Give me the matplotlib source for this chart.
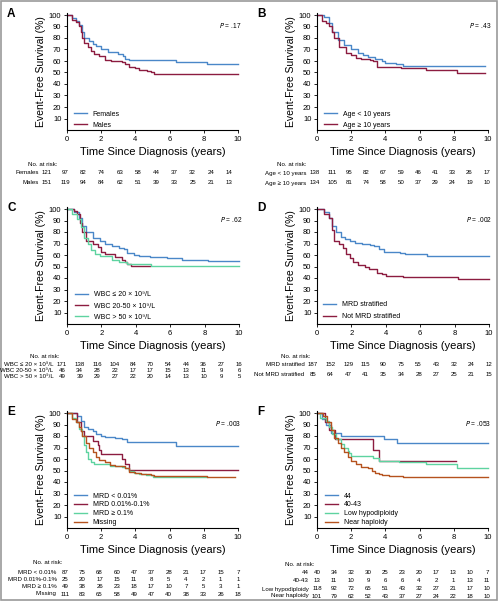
import matplotlib
matplotlib.use('Agg')
import matplotlib.pyplot as plt
from matplotlib.patches import Rectangle

plt.rcParams['font.family'] = ['Liberation Sans Narrow', 'Liberation Sans', 'DejaVu Sans']

W, H = 499, 609
BLUE = '#4a87c8'
RED = '#8c1c40'
GREEN = '#5ed3a0'
ORANGE = '#b5521e'

# ---- panel A: sex
a_fem_t = [0, 0.3, 0.5, 0.7, 0.85, 1.0, 1.3, 1.5, 1.7, 2.0, 2.4, 3.0, 3.3, 3.4, 3.6, 6.4, 8.2, 10.0]
a_fem_s = [100, 97, 95, 91, 85, 80, 77, 75, 73, 70, 68, 66.5, 64, 62, 61, 59.5, 57.5, 57.5]
a_mal_t = [0, 0.3, 0.5, 0.7, 0.8, 0.9, 1.0, 1.2, 1.4, 1.6, 1.9, 2.2, 2.6, 3.2, 3.4, 3.6, 4.0, 4.2, 4.7, 4.9, 5.1, 10.0]
a_mal_s = [100, 96, 94, 90, 85, 80, 76, 72, 69, 66, 64, 61, 60, 59, 57, 55, 54, 52, 51.5, 50, 49, 49]
a_risk_fem = [121, 97, 82, 74, 63, 58, 44, 37, 32, 24, 14]
a_risk_mal = [151, 119, 94, 84, 62, 51, 39, 33, 25, 21, 13]

# ---- panel B: age
b_young_t = [0, 0.4, 0.7, 0.9, 1.2, 1.6, 2.0, 2.4, 2.7, 3.0, 3.4, 3.8, 4.0, 4.6, 5.0, 9.8]
b_young_s = [100, 98, 93, 85, 78, 74, 70, 67, 65, 63.5, 62, 60, 58, 57, 56, 56]
b_old_t = [0, 0.3, 0.5, 0.7, 0.85, 1.0, 1.3, 1.7, 2.0, 2.3, 2.6, 3.1, 3.3, 3.5, 4.9, 6.4, 8.2, 9.8]
b_old_s = [100, 95, 93, 90, 85, 80, 72, 67, 65, 63, 62, 61, 60, 54.5, 53.5, 52, 49.5, 49.5]
b_risk_young = [138, 111, 95, 82, 67, 59, 46, 41, 33, 26, 17]
b_risk_old = [134, 105, 81, 74, 58, 50, 37, 29, 24, 19, 10]

# ---- panel C: WBC
c_low_t = [0, 0.4, 0.7, 0.9, 1.1, 1.5, 1.9, 2.2, 2.6, 3.0, 3.3, 3.5, 3.9, 4.2, 4.8, 5.8, 6.7, 8.2, 10.0]
c_low_s = [100, 97, 92, 85, 80, 75, 72, 70, 67.5, 66, 65, 61.5, 60, 59, 58, 57, 56, 55, 55]
c_mid_t = [0, 0.4, 0.6, 0.75, 0.85, 1.1, 1.5, 1.8, 2.0, 2.2, 2.8, 3.2, 3.4, 3.5, 3.7, 4.8]
c_mid_s = [100, 98, 96, 88, 80, 72, 70, 67, 63, 61, 58, 56, 54, 52, 50.5, 50.5]
c_high_t = [0, 0.3, 0.6, 0.8, 1.0, 1.2, 1.4, 1.6, 1.9, 2.6, 3.0, 3.5, 4.9, 10.0]
c_high_s = [100, 96, 91, 84, 75, 70, 64, 61, 59, 56, 54, 52.5, 50.5, 50.5]
c_risk_low = [171, 138, 116, 104, 84, 70, 54, 44, 36, 27, 16]
c_risk_mid = [46, 34, 28, 22, 17, 17, 15, 13, 11, 9, 6]
c_risk_high = [49, 39, 29, 27, 22, 20, 14, 13, 10, 9, 5]

# ---- panel D: MRD stratified
d_yes_t = [0, 0.4, 0.7, 0.9, 1.1, 1.4, 1.6, 1.9, 2.2, 2.6, 3.1, 3.3, 3.6, 3.9, 4.3, 4.8, 5.1, 6.0, 6.4, 10.0]
d_yes_s = [100, 97, 92, 85, 80, 76, 74, 72, 70.5, 70, 69, 68, 65, 63, 62.5, 62, 61, 60.5, 59.5, 59.5]
d_no_t = [0, 0.4, 0.7, 0.85, 1.0, 1.3, 1.5, 1.7, 1.9, 2.1, 2.4, 2.8, 3.0, 3.2, 3.5, 3.8, 4.0, 4.7, 5.0, 8.2, 10.0]
d_no_s = [100, 96, 92, 82, 72, 70, 66, 61, 57, 54, 51, 50, 48, 47.5, 44, 43.5, 42, 41.5, 41, 39.5, 39.5]
d_risk_yes = [187, 152, 129, 115, 90, 75, 55, 43, 32, 24, 12]
d_risk_no = [85, 64, 47, 41, 35, 34, 28, 27, 25, 21, 15]

# ---- panel E: MRD level
e_low_t = [0, 0.5, 0.6, 0.8, 1.0, 1.2, 1.5, 1.7, 2.0, 2.2, 2.8, 3.2, 3.5, 6.4, 10.0]
e_low_s = [100, 100, 97, 93, 88, 86, 84, 82, 80, 79, 78, 77, 75, 71.5, 71.5]
e_mid_t = [0, 0.6, 0.8, 1.0, 1.5, 1.8, 1.9, 2.0, 3.2, 3.4, 3.65, 10.0]
e_mid_s = [100, 92, 84, 80, 76, 72, 68, 64, 60, 56, 50.5, 50.5]
e_high_t = [0, 0.3, 0.5, 0.7, 0.9, 1.0, 1.1, 1.2, 1.4, 1.6, 2.5, 3.2, 3.4, 3.6, 3.9, 4.2, 4.6, 5.0, 8.2]
e_high_s = [100, 96, 92, 86, 80, 72, 66, 60, 57, 56, 54, 53, 52, 50, 48, 47, 46, 44, 44]
e_miss_t = [0, 0.3, 0.5, 0.7, 0.8, 0.9, 1.1, 1.3, 1.5, 1.7, 1.9, 2.2, 2.5, 2.8, 3.4, 3.6, 4.0, 4.3, 4.9, 5.1, 8.2, 9.8]
e_miss_s = [100, 95, 92, 88, 84, 80, 74, 70, 66, 62, 59, 57, 55, 54, 52, 49, 48, 47, 46, 45, 44, 44]
e_risk_low = [87, 75, 68, 60, 47, 37, 28, 21, 17, 15, 7]
e_risk_mid = [25, 20, 17, 15, 11, 8, 5, 4, 2, 1, 1]
e_risk_high = [49, 38, 26, 23, 18, 17, 10, 7, 5, 3, 1]
e_risk_miss = [111, 83, 65, 58, 49, 47, 40, 38, 33, 26, 18]

# ---- panel F: ploidy
f_44_t = [0, 0.3, 0.5, 0.8, 1.4, 3.9, 4.7, 10.0]
f_44_s = [100, 95, 90, 83, 80, 77, 74, 74]
f_4043_t = [0, 0.45, 0.7, 1.05, 3.3, 3.65, 8.1]
f_4043_s = [100, 92, 85, 77, 67.5, 58, 58]
f_low_t = [0, 0.2, 0.5, 0.7, 0.9, 1.1, 1.4, 1.6, 1.8, 1.9, 2.0, 3.3, 3.6, 4.8, 6.4, 8.2, 10.0]
f_low_s = [100, 96, 93, 88, 82, 77, 73, 70, 67, 65, 63, 61, 58, 57, 55.5, 52, 52]
f_near_t = [0, 0.35, 0.6, 0.8, 1.0, 1.2, 1.4, 1.6, 1.8, 2.0, 2.3, 2.6, 3.0, 3.2, 3.4, 3.6, 3.8, 4.2, 4.6, 5.0, 10.0]
f_near_s = [100, 97, 92, 85, 78, 74, 70, 66, 62, 58, 56, 53, 52, 50, 48, 47, 46, 45.5, 45, 44, 44]
f_risk_44 = [40, 34, 32, 30, 25, 23, 20, 17, 13, 10, 7]
f_risk_4043 = [13, 11, 10, 9, 6, 6, 4, 2, 1, 13, 11]
f_risk_low = [118, 92, 72, 65, 51, 43, 32, 27, 21, 17, 10]
f_risk_near = [101, 79, 62, 52, 43, 37, 27, 24, 22, 18, 10]

fig = plt.figure(figsize=(W / 100, H / 100), dpi=100)
fig.patches.append(Rectangle((1 / W, 1 - 600 / H), 496 / W, 599 / H, transform=fig.transFigure,
                             fill=False, edgecolor='#9a9a9a', lw=1.2))

RISK_FS = 4.4


def fx(x):
    return x / W


def fy(y):
    return 1 - y / H


def panel(letter, left, right, top100, bottom, curves, pval, risk_labels, risk_rows,
          col0, colstep, head_x, head_y, row_ys, leg_x, leg_top, leg_step):
    # top100 = pixel row of the 100 % level, ylim extends a little above
    unit = (bottom - top100) / 100.0
    top = top100 - 2 * unit
    ax = fig.add_axes([fx(left), fy(bottom), fx(right - left), (bottom - top) / H])
    for t, s, c, lab in curves:
        ax.step(t, s, where='post', color=c, lw=1.0, label=lab, clip_on=False)
    ax.set_xlim(0, 10)
    ax.set_ylim(0, 102)
    ax.set_xticks(range(0, 11, 2))
    ax.set_yticks(range(10, 101, 10))
    ax.spines['top'].set_visible(False)
    ax.spines['right'].set_visible(False)
    ax.spines['left'].set_linewidth(0.8)
    ax.spines['bottom'].set_linewidth(0.8)
    ax.tick_params(labelsize=5.5, length=2, width=0.6, pad=2)
    ax.set_xlabel('Time Since Diagnosis (years)', fontsize=8, labelpad=3)
    ax.set_ylabel('Event-Free Survival (%)', fontsize=7.5, labelpad=2)
    fig.text(fx(right + 3), fy(top100 + 10), '$\\it{P}$ = ' + pval, ha='right',
             va='center', fontsize=4.8)
    fig.text(fx(left - 60), fy(top100 - 1), letter, fontsize=8.5, fontweight='bold',
             ha='left', va='center', family=['Liberation Sans', 'DejaVu Sans'])

    # legend
    fs = 5
    step_pt = leg_step * 72 / 100
    ax.legend(loc='upper left', frameon=False, fontsize=fs, handlelength=1.9,
              handletextpad=0.8, borderaxespad=0, borderpad=0,
              labelspacing=(step_pt - fs * 0.85) / fs,
              bbox_to_anchor=((leg_x - left) / (right - left),
                              (bottom - (leg_top + 2.5 - leg_step / 2)) / (bottom - top)))

    # number at risk table
    fig.text(fx(head_x), fy(head_y), 'No. at risk:', fontsize=RISK_FS, ha='left', va='center')
    for lab, row, yy in zip(risk_labels, risk_rows, row_ys):
        fig.text(fx(col0 - 8.5), fy(yy), lab, fontsize=RISK_FS, ha='right', va='center')
        for i, v in enumerate(row):
            fig.text(fx(col0 + colstep * i), fy(yy), str(v), fontsize=RISK_FS,
                     ha='center', va='center')
    return ax


panel('A', 67, 238, 15, 130,
      [(a_fem_t, a_fem_s, BLUE, 'Females'), (a_mal_t, a_mal_s, RED, 'Males')],
      '.17', ['Females', 'Males'], [a_risk_fem, a_risk_mal],
      47, 18.2, 28, 164, [173, 183], 74, 113, 10)

panel('B', 317, 488, 15, 130,
      [(b_young_t, b_young_s, BLUE, 'Age < 10 years'), (b_old_t, b_old_s, RED, 'Age ≥ 10 years')],
      '.43', ['Age < 10 years', 'Age ≥ 10 years'], [b_risk_young, b_risk_old],
      315, 17.17, 277, 164, [173, 183], 324, 113, 10)

wbc = ['WBC ≤ 20 × 10⁹/L', 'WBC 20-50 × 10⁹/L', 'WBC > 50 × 10⁹/L']
panel('C', 67, 239, 209, 324,
      [(c_low_t, c_low_s, BLUE, wbc[0]), (c_mid_t, c_mid_s, RED, wbc[1]),
       (c_high_t, c_high_s, GREEN, wbc[2])],
      '.62', wbc, [c_risk_low, c_risk_mid, c_risk_high],
      62, 17.7, 30, 356, [364, 370, 376], 75, 294, 10)

panel('D', 317, 489, 209, 324,
      [(d_yes_t, d_yes_s, BLUE, 'MRD stratified'), (d_no_t, d_no_s, RED, 'Not MRD stratified')],
      '.002', ['MRD stratified', 'Not MRD stratified'], [d_risk_yes, d_risk_no],
      313, 17.6, 281, 356, [365, 374], 323, 304, 11)

mrd = ['MRD < 0.01%', 'MRD 0.01%-0.1%', 'MRD ≥ 0.1%', 'Missing']
panel('E', 67, 238, 413, 528,
      [(e_low_t, e_low_s, BLUE, mrd[0]), (e_mid_t, e_mid_s, RED, mrd[1]),
       (e_high_t, e_high_s, GREEN, mrd[2]), (e_miss_t, e_miss_s, ORANGE, mrd[3])],
      '.003', mrd, [e_risk_low, e_risk_mid, e_risk_high, e_risk_miss],
      65, 17.3, 33, 562, [572, 579.5, 587, 594], 74, 494, 7.8)

ploidy = ['44', '40-43', 'Low hypodiploidy', 'Near haploidy']
panel('F', 317, 488, 413, 528,
      [(f_44_t, f_44_s, BLUE, ploidy[0]), (f_4043_t, f_4043_s, RED, ploidy[1]),
       (f_low_t, f_low_s, GREEN, ploidy[2]), (f_near_t, f_near_s, ORANGE, ploidy[3])],
      '.053', ploidy, [f_risk_44, f_risk_4043, f_risk_low, f_risk_near],
      317, 17.0, 285, 564, [573, 581, 589, 596], 325, 494, 7.7)

fig.savefig('out.png', dpi=100)
